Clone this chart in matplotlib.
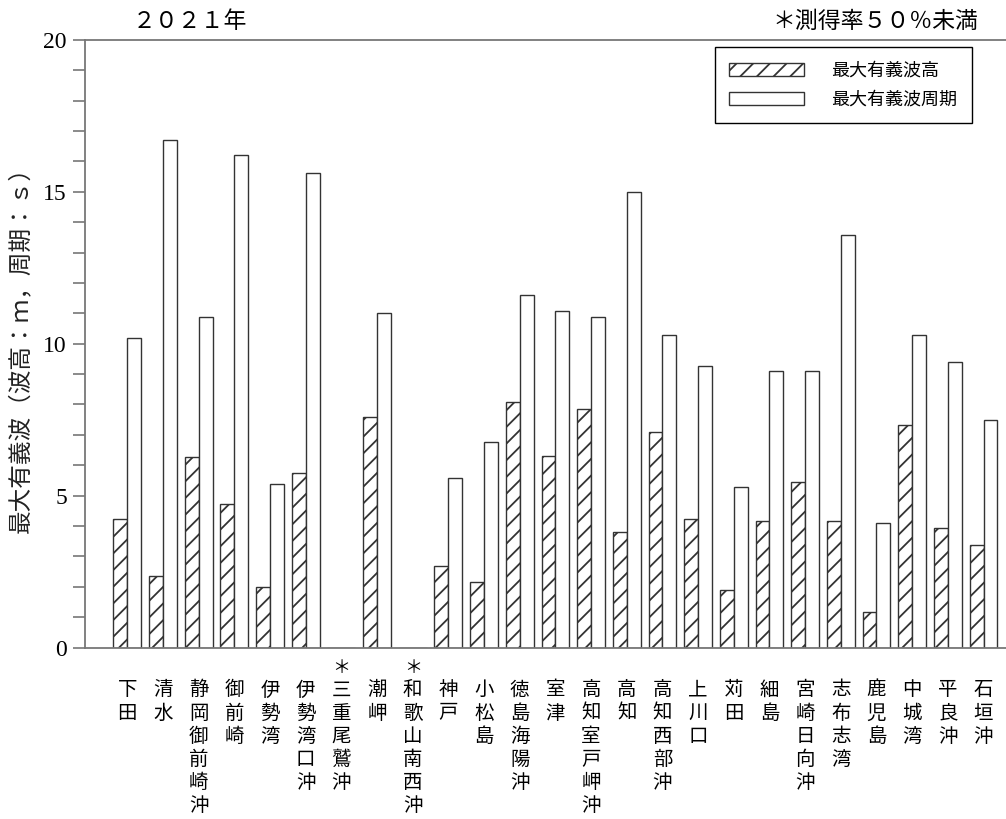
import matplotlib
matplotlib.use("Agg")
import matplotlib.pyplot as plt
import matplotlib.patches as mpatches
from matplotlib.ticker import MultipleLocator
import numpy as np

plt.rcParams['font.family'] = ['Noto Sans CJK JP', 'DejaVu Sans']
plt.rcParams['hatch.linewidth'] = 1.3
plt.rcParams['hatch.color'] = 'black'

# 地点名（＊は測得率50%未満）
stations = ['下田', '清水', '静岡御前崎沖', '御前崎', '伊勢湾', '伊勢湾口沖',
            '三重尾鷲沖', '潮岬', '和歌山南西沖', '神戸', '小松島', '徳島海陽沖',
            '室津', '高知室戸岬沖', '高知', '高知西部沖', '上川口', '苅田',
            '細島', '宮崎日向沖', '志布志湾', '鹿児島', '中城湾', '平良沖', '石垣沖']
low_rate = ['三重尾鷲沖', '和歌山南西沖']

# 最大有義波高 (m)
wave_height = [4.22, 2.37, 6.28, 4.71, 1.98, 5.74, 0.0, 7.58, 0.0, 2.69,
               2.14, 8.09, 6.30, 7.86, 3.81, 7.10, 4.23, 1.90, 4.18, 5.45,
               4.18, 1.17, 7.32, 3.95, 3.36]
# 最大有義波周期 (s)
wave_period = [10.19, 16.71, 10.89, 16.22, 5.39, 15.61, 0.0, 11.0, 0.0, 5.58,
               6.77, 11.6, 11.08, 10.88, 15.01, 10.30, 9.28, 5.30, 9.10, 9.10,
               13.59, 4.09, 10.30, 9.40, 7.50]

x = np.arange(len(stations))
w = 0.39

fig = plt.figure(figsize=(10.06, 8.19), dpi=100)
ax = fig.add_axes([0.0845, 0.2094, 0.9155, 0.7418])

ax.bar(x - w / 2, wave_height, w, facecolor='white', edgecolor='#333333',
       linewidth=1.0, hatch='//')
ax.bar(x + w / 2, wave_period, w, facecolor='white', edgecolor='#333333',
       linewidth=1.0)

ax.set_xlim(-1.186, 24.63)
ax.set_ylim(0, 20)

ax.spines['right'].set_visible(False)
for s in ['left', 'top', 'bottom']:
    ax.spines[s].set_color('#777777')
    ax.spines[s].set_linewidth(1.3)

ax.yaxis.set_major_locator(MultipleLocator(5))
ax.yaxis.set_minor_locator(MultipleLocator(1))
ax.tick_params(axis='y', which='both', direction='out', length=9,
               width=1.2, color='#777777', pad=4)
for lab in ax.get_yticklabels():
    lab.set_family(['Liberation Serif'])
    lab.set_fontsize(17)

ax.set_xticks(x)
ax.set_xticklabels(['\n'.join(s) for s in stations], fontsize=14,
                   linespacing=1.13, va='top')
ax.tick_params(axis='x', length=0, pad=23)

# 測得率50%未満の印
for i, s in enumerate(stations):
    if s in low_rate:
        ax.annotate('＊', (i, 0), xytext=(0, -15), textcoords='offset points',
                    ha='center', va='center', fontsize=13,
                    annotation_clip=False)

ax.set_ylabel('最大有義波（波高：ｍ，周期：ｓ）', fontsize=17, labelpad=8,
              color='#222222')

fig.text(0.189, 0.974, '２０２１年', fontsize=16.5, ha='center', va='center')
fig.text(0.870, 0.974, '＊測得率５０％未満', fontsize=16.5, ha='center', va='center')

handles = [mpatches.Patch(facecolor='white', edgecolor='#333333', hatch='//',
                          linewidth=1.0, label='最大有義波高'),
           mpatches.Patch(facecolor='white', edgecolor='#333333',
                          linewidth=1.0, label='最大有義波周期')]
leg = ax.legend(handles=handles, loc='upper right',
                bbox_to_anchor=(0.963, 0.988), fontsize=13, handlelength=4.17,
                handleheight=0.72, handletextpad=1.5, labelspacing=0.62,
                borderpad=0.8, borderaxespad=0, fancybox=False, framealpha=1)
leg.get_frame().set_edgecolor('black')
leg.get_frame().set_linewidth(1.0)

fig.savefig('out.png', dpi=100)
